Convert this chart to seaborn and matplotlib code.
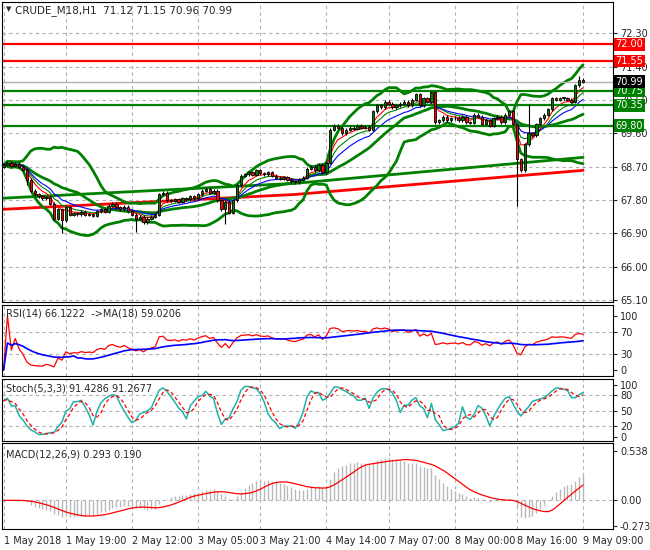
import matplotlib
matplotlib.use("Agg")
import matplotlib.pyplot as plt
import numpy as np
import pandas as pd
import seaborn as sns
from matplotlib.transforms import blended_transform_factory

# hourly closes (150 bars, 1 May 02:00 .. 9 May 09:00)
closes = [
    68.75, 68.80, 68.72, 68.78, 68.70, 68.62, 68.35, 68.05, 67.95, 67.90, 67.85, 67.88,
    67.70, 67.30, 67.55, 67.25, 67.60, 67.40, 67.45, 67.42, 67.48, 67.40, 67.42, 67.38,
    67.50, 67.55, 67.48, 67.65, 67.70, 67.60, 67.55, 67.62, 67.50, 67.40, 67.30, 67.35,
    67.20, 67.30, 67.35, 67.40, 67.95, 68.00, 67.80, 67.78, 67.82, 67.75, 67.85, 67.82,
    67.90, 67.85, 67.95, 68.05, 68.10, 68.00, 68.05, 67.80, 67.55, 67.75, 67.45, 67.80,
    68.20, 68.45, 68.50, 68.55, 68.48, 68.60, 68.52, 68.50, 68.55, 68.45, 68.40, 68.38,
    68.42, 68.35, 68.30, 68.28, 68.35, 68.40, 68.65, 68.70, 68.60, 68.75, 68.55, 68.80,
    69.70, 69.80, 69.75, 69.60, 69.70, 69.75, 69.72, 69.80, 69.75, 69.78, 69.70, 70.20,
    70.35, 70.30, 70.45, 70.40, 70.30, 70.35, 70.40, 70.45, 70.35, 70.50, 70.65, 70.35,
    70.55, 70.45, 70.70, 69.90, 69.95, 70.05, 69.95, 70.00, 70.02, 69.95, 70.05, 69.90,
    69.88, 70.10, 70.05, 69.85, 69.95, 69.80, 70.00, 70.05, 69.90, 70.10, 70.20, 69.85,
    68.90, 68.60, 69.30, 69.60, 69.55, 69.85, 70.00, 70.10, 70.25, 70.55, 70.50, 70.55,
    70.55, 70.50, 70.45, 70.90, 71.05, 70.99,
]
first_open = 68.70
wick_lows = {15: 66.90, 34: 66.95, 57: 67.15, 132: 67.65, 6: 68.20}
wick_highs = {110: 70.75, 135: 70.38, 148: 71.15}

long_ma_red_x = [0, 75, 149]
long_ma_red_y = [67.55, 67.95, 68.60]
long_ma_green_x = [0, 75, 149]
long_ma_green_y = [67.85, 68.25, 68.95]

red_levels = [72.00, 71.55]
green_levels = [70.75, 70.35, 69.80]
last_price = 70.99
price_ticks = [72.30, 71.40, 70.50, 69.60, 68.70, 67.80, 66.90, 66.00, 65.10]

time_pos = [0, 16, 33, 50, 66, 83, 99, 116, 132, 149]
time_labels = ["1 May 2018", "1 May 19:00", "2 May 12:00", "3 May 05:00", "3 May 21:00",
               "4 May 14:00", "7 May 07:00", "8 May 00:00", "8 May 16:00", "9 May 09:00"]

sns.set_style("white")
plt.rcParams["font.family"] = ["DejaVu Sans"]

c = pd.Series(closes)
n = len(c)
x = np.arange(n)
opens = pd.Series([first_open] + closes[:-1])
highs = np.maximum(opens, c) + 0.04
lows = np.minimum(opens, c) - 0.04
for k, v in wick_lows.items():
    lows[k] = v
for k, v in wick_highs.items():
    highs[k] = v

mid = c.rolling(20, min_periods=1).mean()
sd = c.rolling(20, min_periods=1).std().fillna(0)
ema_r = c.ewm(span=5).mean()
ema_g = c.ewm(span=8).mean()
ema_b = c.ewm(span=13).mean()

delta = c.diff().fillna(0)
up = delta.clip(lower=0).ewm(alpha=1 / 14).mean()
dn = (-delta.clip(upper=0)).ewm(alpha=1 / 14).mean()
rsi = 100 - 100 / (1 + up / dn.replace(0, 1e-9))
rsi_ma = rsi.rolling(18, min_periods=1).mean()

hh = pd.Series(highs).rolling(5, min_periods=1).max()
ll = pd.Series(lows).rolling(5, min_periods=1).min()
k_raw = (c - ll).rolling(3, min_periods=1).sum() / (hh - ll).rolling(3, min_periods=1).sum() * 100
stoch_d = k_raw.rolling(3, min_periods=1).mean()

macd = c.ewm(span=12).mean() - c.ewm(span=26).mean()
signal = macd.rolling(9, min_periods=1).mean()

W, H = 650, 550
fig = plt.figure(figsize=(6.5, 5.5), dpi=100)


def panel(top, bottom):
    return fig.add_axes([2 / W, 1 - bottom / H, 611 / W, (bottom - top) / H])


ax = panel(2, 302)
ax_rsi = panel(305, 376)
ax_st = panel(379, 441)
ax_m = panel(443, 529)
xlim = (-0.4, 156.7)
grid_kw = dict(color="#b0b0b0", linestyle=(0, (3, 3)), linewidth=0.8)

for a in (ax, ax_rsi, ax_st, ax_m):
    a.set_xlim(*xlim)
    a.yaxis.tick_right()
    a.tick_params(axis="y", labelsize=7, length=3, pad=2)
    a.set_xticks(time_pos)
    a.set_xticklabels([])
    a.tick_params(axis="x", length=0)
    a.grid(True, **grid_kw)
    for s in a.spines.values():
        s.set_color("black")
        s.set_linewidth(0.8)

# ---- price panel
ax.set_ylim(65.05, 73.14)
ax.set_yticks(price_ticks)
ax.set_yticklabels([f"{p:.2f}" for p in price_ticks])
ax.plot(long_ma_red_x, long_ma_red_y, color="#ff0000", lw=2)
ax.plot(long_ma_green_x, long_ma_green_y, color="#008000", lw=2)
sns.lineplot(x=x, y=mid + 2 * sd, ax=ax, color="#008000", lw=2)
sns.lineplot(x=x, y=mid - 2 * sd, ax=ax, color="#008000", lw=2)
sns.lineplot(x=x, y=mid, ax=ax, color="#008000", lw=2)
sns.lineplot(x=x, y=ema_g, ax=ax, color="#008000", lw=0.8)
sns.lineplot(x=x, y=ema_r, ax=ax, color="#ff0000", lw=0.8)
sns.lineplot(x=x, y=ema_b, ax=ax, color="#0000ff", lw=0.8)
ax.vlines(x, lows, highs, color="black", lw=0.8, zorder=4)
body_lo = np.minimum(opens, c)
body_h = np.maximum(np.abs(c - opens), 0.015)
ax.bar(x, body_h, bottom=body_lo, width=0.6, color=np.where(c >= opens, "#008000", "#ff0000"),
       edgecolor="black", linewidth=0.6, zorder=5)

trans = blended_transform_factory(ax.transAxes, ax.transData)
ax.axhline(last_price, color="#b0b0b0", lw=1)
box_specs = [(lv, "#ff0000") for lv in red_levels] + [(lv, "#008000") for lv in green_levels]
box_specs.append((last_price, "black"))
for lv in red_levels:
    ax.axhline(lv, color="#ff0000", lw=1.6)
for lv in green_levels:
    ax.axhline(lv, color="#008000", lw=1.6)
for lv, col in box_specs:
    ax.text(1.004, lv, f"{lv:.2f}", transform=trans, va="center", ha="left", fontsize=7, color="white",
            bbox=dict(boxstyle="square,pad=0.15", fc=col, ec="none"), clip_on=False, zorder=10)
ax.text(0.006, 0.985, "\u25bc", transform=ax.transAxes, fontsize=5, va="top")
ax.text(0.022, 0.99, "CRUDE_M18,H1  71.12 71.15 70.96 70.99", transform=ax.transAxes, fontsize=7.5, va="top")

# ---- RSI
ax_rsi.set_ylim(-10.7, 119.6)
ax_rsi.set_yticks([0, 30, 70, 100])
ax_rsi.grid(False)
for lv in (30, 70):
    ax_rsi.axhline(lv, **grid_kw)
for tp in time_pos:
    ax_rsi.axvline(tp, **grid_kw)
sns.lineplot(x=x, y=rsi, ax=ax_rsi, color="#ff0000", lw=0.9)
sns.lineplot(x=x, y=rsi_ma, ax=ax_rsi, color="#0000ff", lw=1.2)
ax_rsi.text(0.006, 0.95, "RSI(14) 66.1222  ->MA(18) 59.0206", transform=ax_rsi.transAxes, fontsize=7, va="top")

# ---- Stochastic
ax_st.set_ylim(-8, 111)
ax_st.set_yticks([0, 20, 50, 80, 100])
ax_st.grid(False)
for lv in (20, 50, 80):
    ax_st.axhline(lv, **grid_kw)
for tp in time_pos:
    ax_st.axvline(tp, **grid_kw)
sns.lineplot(x=x, y=k_raw, ax=ax_st, color="#20b2aa", lw=1.1)
ax_st.plot(x, stoch_d, color="#ff0000", lw=0.9, linestyle=(0, (3, 2)))
ax_st.text(0.006, 0.93, "Stoch(5,3,3) 91.4286 91.2677", transform=ax_st.transAxes, fontsize=7, va="top")

# ---- MACD
ax_m.set_ylim(-0.31, 0.62)
ax_m.set_yticks([0.538, 0.0, -0.273])
ax_m.set_yticklabels(["0.538", "0.00", "-0.273"])
ax_m.grid(False)
ax_m.axhline(0, **grid_kw)
for tp in time_pos:
    ax_m.axvline(tp, **grid_kw)
ax_m.vlines(x, 0, macd, color="#b8b8b8", lw=1.0)
sns.lineplot(x=x, y=signal, ax=ax_m, color="#ff0000", lw=0.9)
ax_m.text(0.006, 0.92, "MACD(12,26,9) 0.293 0.190", transform=ax_m.transAxes, fontsize=7, va="top")
ax_m.set_xticklabels(time_labels, fontsize=7)
ax_m.tick_params(axis="x", length=3, pad=2)
for lab in ax_m.get_xticklabels():
    lab.set_ha("left")

for a in (ax, ax_rsi, ax_st, ax_m):
    a.set_xlabel("")
    a.set_ylabel("")

fig.savefig("out.png", dpi=100)
